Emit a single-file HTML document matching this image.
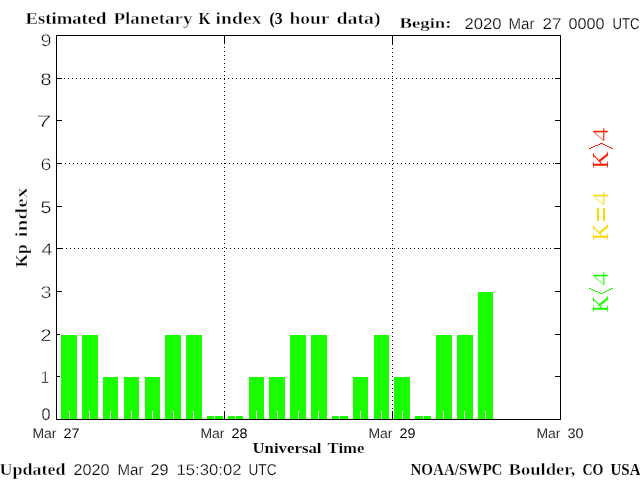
<!DOCTYPE html>
<html><head><meta charset="utf-8"><title>Estimated Planetary K index (3 hour data)</title>
<style>html,body{margin:0;padding:0;background:#fff;overflow:hidden;}svg{display:block;}</style></head>
<body>
<svg width="640" height="480" viewBox="0 0 640 480">
<rect x="0" y="0" width="640" height="480" fill="#fff"/>
<g shape-rendering="crispEdges">
<rect x="56" y="419" width="6" height="1" fill="#000"/><rect x="555" y="419" width="6" height="1" fill="#000"/><rect x="56" y="376" width="6" height="1" fill="#000"/><rect x="555" y="376" width="6" height="1" fill="#000"/><rect x="56" y="334" width="6" height="1" fill="#000"/><rect x="555" y="334" width="6" height="1" fill="#000"/><rect x="56" y="291" width="6" height="1" fill="#000"/><rect x="555" y="291" width="6" height="1" fill="#000"/><rect x="56" y="248" width="6" height="1" fill="#000"/><rect x="555" y="248" width="6" height="1" fill="#000"/><rect x="56" y="206" width="6" height="1" fill="#000"/><rect x="555" y="206" width="6" height="1" fill="#000"/><rect x="56" y="163" width="6" height="1" fill="#000"/><rect x="555" y="163" width="6" height="1" fill="#000"/><rect x="56" y="120" width="6" height="1" fill="#000"/><rect x="555" y="120" width="6" height="1" fill="#000"/><rect x="56" y="78" width="6" height="1" fill="#000"/><rect x="555" y="78" width="6" height="1" fill="#000"/><rect x="56" y="35" width="6" height="1" fill="#000"/><rect x="555" y="35" width="6" height="1" fill="#000"/><rect x="62" y="248" width="1" height="1" fill="#000"/><rect x="66" y="248" width="1" height="1" fill="#000"/><rect x="70" y="248" width="1" height="1" fill="#000"/><rect x="74" y="248" width="1" height="1" fill="#000"/><rect x="78" y="248" width="1" height="1" fill="#000"/><rect x="82" y="248" width="1" height="1" fill="#000"/><rect x="86" y="248" width="1" height="1" fill="#000"/><rect x="90" y="248" width="1" height="1" fill="#000"/><rect x="94" y="248" width="1" height="1" fill="#000"/><rect x="98" y="248" width="1" height="1" fill="#000"/><rect x="102" y="248" width="1" height="1" fill="#000"/><rect x="106" y="248" width="1" height="1" fill="#000"/><rect x="110" y="248" width="1" height="1" fill="#000"/><rect x="114" y="248" width="1" height="1" fill="#000"/><rect x="118" y="248" width="1" height="1" fill="#000"/><rect x="122" y="248" width="1" height="1" fill="#000"/><rect x="126" y="248" width="1" height="1" fill="#000"/><rect x="130" y="248" width="1" height="1" fill="#000"/><rect x="134" y="248" width="1" height="1" fill="#000"/><rect x="138" y="248" width="1" height="1" fill="#000"/><rect x="142" y="248" width="1" height="1" fill="#000"/><rect x="146" y="248" width="1" height="1" fill="#000"/><rect x="150" y="248" width="1" height="1" fill="#000"/><rect x="154" y="248" width="1" height="1" fill="#000"/><rect x="158" y="248" width="1" height="1" fill="#000"/><rect x="162" y="248" width="1" height="1" fill="#000"/><rect x="166" y="248" width="1" height="1" fill="#000"/><rect x="170" y="248" width="1" height="1" fill="#000"/><rect x="174" y="248" width="1" height="1" fill="#000"/><rect x="178" y="248" width="1" height="1" fill="#000"/><rect x="182" y="248" width="1" height="1" fill="#000"/><rect x="186" y="248" width="1" height="1" fill="#000"/><rect x="190" y="248" width="1" height="1" fill="#000"/><rect x="194" y="248" width="1" height="1" fill="#000"/><rect x="198" y="248" width="1" height="1" fill="#000"/><rect x="202" y="248" width="1" height="1" fill="#000"/><rect x="206" y="248" width="1" height="1" fill="#000"/><rect x="210" y="248" width="1" height="1" fill="#000"/><rect x="214" y="248" width="1" height="1" fill="#000"/><rect x="218" y="248" width="1" height="1" fill="#000"/><rect x="222" y="248" width="1" height="1" fill="#000"/><rect x="226" y="248" width="1" height="1" fill="#000"/><rect x="230" y="248" width="1" height="1" fill="#000"/><rect x="234" y="248" width="1" height="1" fill="#000"/><rect x="238" y="248" width="1" height="1" fill="#000"/><rect x="242" y="248" width="1" height="1" fill="#000"/><rect x="246" y="248" width="1" height="1" fill="#000"/><rect x="250" y="248" width="1" height="1" fill="#000"/><rect x="254" y="248" width="1" height="1" fill="#000"/><rect x="258" y="248" width="1" height="1" fill="#000"/><rect x="262" y="248" width="1" height="1" fill="#000"/><rect x="266" y="248" width="1" height="1" fill="#000"/><rect x="270" y="248" width="1" height="1" fill="#000"/><rect x="274" y="248" width="1" height="1" fill="#000"/><rect x="278" y="248" width="1" height="1" fill="#000"/><rect x="282" y="248" width="1" height="1" fill="#000"/><rect x="286" y="248" width="1" height="1" fill="#000"/><rect x="290" y="248" width="1" height="1" fill="#000"/><rect x="294" y="248" width="1" height="1" fill="#000"/><rect x="298" y="248" width="1" height="1" fill="#000"/><rect x="302" y="248" width="1" height="1" fill="#000"/><rect x="306" y="248" width="1" height="1" fill="#000"/><rect x="310" y="248" width="1" height="1" fill="#000"/><rect x="314" y="248" width="1" height="1" fill="#000"/><rect x="318" y="248" width="1" height="1" fill="#000"/><rect x="322" y="248" width="1" height="1" fill="#000"/><rect x="326" y="248" width="1" height="1" fill="#000"/><rect x="330" y="248" width="1" height="1" fill="#000"/><rect x="334" y="248" width="1" height="1" fill="#000"/><rect x="338" y="248" width="1" height="1" fill="#000"/><rect x="342" y="248" width="1" height="1" fill="#000"/><rect x="346" y="248" width="1" height="1" fill="#000"/><rect x="350" y="248" width="1" height="1" fill="#000"/><rect x="354" y="248" width="1" height="1" fill="#000"/><rect x="358" y="248" width="1" height="1" fill="#000"/><rect x="362" y="248" width="1" height="1" fill="#000"/><rect x="366" y="248" width="1" height="1" fill="#000"/><rect x="370" y="248" width="1" height="1" fill="#000"/><rect x="374" y="248" width="1" height="1" fill="#000"/><rect x="378" y="248" width="1" height="1" fill="#000"/><rect x="382" y="248" width="1" height="1" fill="#000"/><rect x="386" y="248" width="1" height="1" fill="#000"/><rect x="390" y="248" width="1" height="1" fill="#000"/><rect x="394" y="248" width="1" height="1" fill="#000"/><rect x="398" y="248" width="1" height="1" fill="#000"/><rect x="402" y="248" width="1" height="1" fill="#000"/><rect x="406" y="248" width="1" height="1" fill="#000"/><rect x="410" y="248" width="1" height="1" fill="#000"/><rect x="414" y="248" width="1" height="1" fill="#000"/><rect x="418" y="248" width="1" height="1" fill="#000"/><rect x="422" y="248" width="1" height="1" fill="#000"/><rect x="426" y="248" width="1" height="1" fill="#000"/><rect x="430" y="248" width="1" height="1" fill="#000"/><rect x="434" y="248" width="1" height="1" fill="#000"/><rect x="438" y="248" width="1" height="1" fill="#000"/><rect x="442" y="248" width="1" height="1" fill="#000"/><rect x="446" y="248" width="1" height="1" fill="#000"/><rect x="450" y="248" width="1" height="1" fill="#000"/><rect x="454" y="248" width="1" height="1" fill="#000"/><rect x="458" y="248" width="1" height="1" fill="#000"/><rect x="462" y="248" width="1" height="1" fill="#000"/><rect x="466" y="248" width="1" height="1" fill="#000"/><rect x="470" y="248" width="1" height="1" fill="#000"/><rect x="474" y="248" width="1" height="1" fill="#000"/><rect x="478" y="248" width="1" height="1" fill="#000"/><rect x="482" y="248" width="1" height="1" fill="#000"/><rect x="486" y="248" width="1" height="1" fill="#000"/><rect x="490" y="248" width="1" height="1" fill="#000"/><rect x="494" y="248" width="1" height="1" fill="#000"/><rect x="498" y="248" width="1" height="1" fill="#000"/><rect x="502" y="248" width="1" height="1" fill="#000"/><rect x="506" y="248" width="1" height="1" fill="#000"/><rect x="510" y="248" width="1" height="1" fill="#000"/><rect x="514" y="248" width="1" height="1" fill="#000"/><rect x="518" y="248" width="1" height="1" fill="#000"/><rect x="522" y="248" width="1" height="1" fill="#000"/><rect x="526" y="248" width="1" height="1" fill="#000"/><rect x="530" y="248" width="1" height="1" fill="#000"/><rect x="534" y="248" width="1" height="1" fill="#000"/><rect x="538" y="248" width="1" height="1" fill="#000"/><rect x="542" y="248" width="1" height="1" fill="#000"/><rect x="546" y="248" width="1" height="1" fill="#000"/><rect x="550" y="248" width="1" height="1" fill="#000"/><rect x="554" y="248" width="1" height="1" fill="#000"/><rect x="65" y="163" width="1" height="1" fill="#000"/><rect x="69" y="163" width="1" height="1" fill="#000"/><rect x="73" y="163" width="1" height="1" fill="#000"/><rect x="77" y="163" width="1" height="1" fill="#000"/><rect x="81" y="163" width="1" height="1" fill="#000"/><rect x="85" y="163" width="1" height="1" fill="#000"/><rect x="89" y="163" width="1" height="1" fill="#000"/><rect x="93" y="163" width="1" height="1" fill="#000"/><rect x="97" y="163" width="1" height="1" fill="#000"/><rect x="101" y="163" width="1" height="1" fill="#000"/><rect x="105" y="163" width="1" height="1" fill="#000"/><rect x="109" y="163" width="1" height="1" fill="#000"/><rect x="113" y="163" width="1" height="1" fill="#000"/><rect x="117" y="163" width="1" height="1" fill="#000"/><rect x="121" y="163" width="1" height="1" fill="#000"/><rect x="125" y="163" width="1" height="1" fill="#000"/><rect x="129" y="163" width="1" height="1" fill="#000"/><rect x="133" y="163" width="1" height="1" fill="#000"/><rect x="137" y="163" width="1" height="1" fill="#000"/><rect x="141" y="163" width="1" height="1" fill="#000"/><rect x="145" y="163" width="1" height="1" fill="#000"/><rect x="149" y="163" width="1" height="1" fill="#000"/><rect x="153" y="163" width="1" height="1" fill="#000"/><rect x="157" y="163" width="1" height="1" fill="#000"/><rect x="161" y="163" width="1" height="1" fill="#000"/><rect x="165" y="163" width="1" height="1" fill="#000"/><rect x="169" y="163" width="1" height="1" fill="#000"/><rect x="173" y="163" width="1" height="1" fill="#000"/><rect x="177" y="163" width="1" height="1" fill="#000"/><rect x="181" y="163" width="1" height="1" fill="#000"/><rect x="185" y="163" width="1" height="1" fill="#000"/><rect x="189" y="163" width="1" height="1" fill="#000"/><rect x="193" y="163" width="1" height="1" fill="#000"/><rect x="197" y="163" width="1" height="1" fill="#000"/><rect x="201" y="163" width="1" height="1" fill="#000"/><rect x="205" y="163" width="1" height="1" fill="#000"/><rect x="209" y="163" width="1" height="1" fill="#000"/><rect x="213" y="163" width="1" height="1" fill="#000"/><rect x="217" y="163" width="1" height="1" fill="#000"/><rect x="221" y="163" width="1" height="1" fill="#000"/><rect x="225" y="163" width="1" height="1" fill="#000"/><rect x="229" y="163" width="1" height="1" fill="#000"/><rect x="233" y="163" width="1" height="1" fill="#000"/><rect x="237" y="163" width="1" height="1" fill="#000"/><rect x="241" y="163" width="1" height="1" fill="#000"/><rect x="245" y="163" width="1" height="1" fill="#000"/><rect x="249" y="163" width="1" height="1" fill="#000"/><rect x="253" y="163" width="1" height="1" fill="#000"/><rect x="257" y="163" width="1" height="1" fill="#000"/><rect x="261" y="163" width="1" height="1" fill="#000"/><rect x="265" y="163" width="1" height="1" fill="#000"/><rect x="269" y="163" width="1" height="1" fill="#000"/><rect x="273" y="163" width="1" height="1" fill="#000"/><rect x="277" y="163" width="1" height="1" fill="#000"/><rect x="281" y="163" width="1" height="1" fill="#000"/><rect x="285" y="163" width="1" height="1" fill="#000"/><rect x="289" y="163" width="1" height="1" fill="#000"/><rect x="293" y="163" width="1" height="1" fill="#000"/><rect x="297" y="163" width="1" height="1" fill="#000"/><rect x="301" y="163" width="1" height="1" fill="#000"/><rect x="305" y="163" width="1" height="1" fill="#000"/><rect x="309" y="163" width="1" height="1" fill="#000"/><rect x="313" y="163" width="1" height="1" fill="#000"/><rect x="317" y="163" width="1" height="1" fill="#000"/><rect x="321" y="163" width="1" height="1" fill="#000"/><rect x="325" y="163" width="1" height="1" fill="#000"/><rect x="329" y="163" width="1" height="1" fill="#000"/><rect x="333" y="163" width="1" height="1" fill="#000"/><rect x="337" y="163" width="1" height="1" fill="#000"/><rect x="341" y="163" width="1" height="1" fill="#000"/><rect x="345" y="163" width="1" height="1" fill="#000"/><rect x="349" y="163" width="1" height="1" fill="#000"/><rect x="353" y="163" width="1" height="1" fill="#000"/><rect x="357" y="163" width="1" height="1" fill="#000"/><rect x="361" y="163" width="1" height="1" fill="#000"/><rect x="365" y="163" width="1" height="1" fill="#000"/><rect x="369" y="163" width="1" height="1" fill="#000"/><rect x="373" y="163" width="1" height="1" fill="#000"/><rect x="377" y="163" width="1" height="1" fill="#000"/><rect x="381" y="163" width="1" height="1" fill="#000"/><rect x="385" y="163" width="1" height="1" fill="#000"/><rect x="389" y="163" width="1" height="1" fill="#000"/><rect x="393" y="163" width="1" height="1" fill="#000"/><rect x="397" y="163" width="1" height="1" fill="#000"/><rect x="401" y="163" width="1" height="1" fill="#000"/><rect x="405" y="163" width="1" height="1" fill="#000"/><rect x="409" y="163" width="1" height="1" fill="#000"/><rect x="413" y="163" width="1" height="1" fill="#000"/><rect x="417" y="163" width="1" height="1" fill="#000"/><rect x="421" y="163" width="1" height="1" fill="#000"/><rect x="425" y="163" width="1" height="1" fill="#000"/><rect x="429" y="163" width="1" height="1" fill="#000"/><rect x="433" y="163" width="1" height="1" fill="#000"/><rect x="437" y="163" width="1" height="1" fill="#000"/><rect x="441" y="163" width="1" height="1" fill="#000"/><rect x="445" y="163" width="1" height="1" fill="#000"/><rect x="449" y="163" width="1" height="1" fill="#000"/><rect x="453" y="163" width="1" height="1" fill="#000"/><rect x="457" y="163" width="1" height="1" fill="#000"/><rect x="461" y="163" width="1" height="1" fill="#000"/><rect x="465" y="163" width="1" height="1" fill="#000"/><rect x="469" y="163" width="1" height="1" fill="#000"/><rect x="473" y="163" width="1" height="1" fill="#000"/><rect x="477" y="163" width="1" height="1" fill="#000"/><rect x="481" y="163" width="1" height="1" fill="#000"/><rect x="485" y="163" width="1" height="1" fill="#000"/><rect x="489" y="163" width="1" height="1" fill="#000"/><rect x="493" y="163" width="1" height="1" fill="#000"/><rect x="497" y="163" width="1" height="1" fill="#000"/><rect x="501" y="163" width="1" height="1" fill="#000"/><rect x="505" y="163" width="1" height="1" fill="#000"/><rect x="509" y="163" width="1" height="1" fill="#000"/><rect x="513" y="163" width="1" height="1" fill="#000"/><rect x="517" y="163" width="1" height="1" fill="#000"/><rect x="521" y="163" width="1" height="1" fill="#000"/><rect x="525" y="163" width="1" height="1" fill="#000"/><rect x="529" y="163" width="1" height="1" fill="#000"/><rect x="533" y="163" width="1" height="1" fill="#000"/><rect x="537" y="163" width="1" height="1" fill="#000"/><rect x="541" y="163" width="1" height="1" fill="#000"/><rect x="545" y="163" width="1" height="1" fill="#000"/><rect x="549" y="163" width="1" height="1" fill="#000"/><rect x="553" y="163" width="1" height="1" fill="#000"/><rect x="64" y="78" width="1" height="1" fill="#000"/><rect x="68" y="78" width="1" height="1" fill="#000"/><rect x="72" y="78" width="1" height="1" fill="#000"/><rect x="76" y="78" width="1" height="1" fill="#000"/><rect x="80" y="78" width="1" height="1" fill="#000"/><rect x="84" y="78" width="1" height="1" fill="#000"/><rect x="88" y="78" width="1" height="1" fill="#000"/><rect x="92" y="78" width="1" height="1" fill="#000"/><rect x="96" y="78" width="1" height="1" fill="#000"/><rect x="100" y="78" width="1" height="1" fill="#000"/><rect x="104" y="78" width="1" height="1" fill="#000"/><rect x="108" y="78" width="1" height="1" fill="#000"/><rect x="112" y="78" width="1" height="1" fill="#000"/><rect x="116" y="78" width="1" height="1" fill="#000"/><rect x="120" y="78" width="1" height="1" fill="#000"/><rect x="124" y="78" width="1" height="1" fill="#000"/><rect x="128" y="78" width="1" height="1" fill="#000"/><rect x="132" y="78" width="1" height="1" fill="#000"/><rect x="136" y="78" width="1" height="1" fill="#000"/><rect x="140" y="78" width="1" height="1" fill="#000"/><rect x="144" y="78" width="1" height="1" fill="#000"/><rect x="148" y="78" width="1" height="1" fill="#000"/><rect x="152" y="78" width="1" height="1" fill="#000"/><rect x="156" y="78" width="1" height="1" fill="#000"/><rect x="160" y="78" width="1" height="1" fill="#000"/><rect x="164" y="78" width="1" height="1" fill="#000"/><rect x="168" y="78" width="1" height="1" fill="#000"/><rect x="172" y="78" width="1" height="1" fill="#000"/><rect x="176" y="78" width="1" height="1" fill="#000"/><rect x="180" y="78" width="1" height="1" fill="#000"/><rect x="184" y="78" width="1" height="1" fill="#000"/><rect x="188" y="78" width="1" height="1" fill="#000"/><rect x="192" y="78" width="1" height="1" fill="#000"/><rect x="196" y="78" width="1" height="1" fill="#000"/><rect x="200" y="78" width="1" height="1" fill="#000"/><rect x="204" y="78" width="1" height="1" fill="#000"/><rect x="208" y="78" width="1" height="1" fill="#000"/><rect x="212" y="78" width="1" height="1" fill="#000"/><rect x="216" y="78" width="1" height="1" fill="#000"/><rect x="220" y="78" width="1" height="1" fill="#000"/><rect x="224" y="78" width="1" height="1" fill="#000"/><rect x="228" y="78" width="1" height="1" fill="#000"/><rect x="232" y="78" width="1" height="1" fill="#000"/><rect x="236" y="78" width="1" height="1" fill="#000"/><rect x="240" y="78" width="1" height="1" fill="#000"/><rect x="244" y="78" width="1" height="1" fill="#000"/><rect x="248" y="78" width="1" height="1" fill="#000"/><rect x="252" y="78" width="1" height="1" fill="#000"/><rect x="256" y="78" width="1" height="1" fill="#000"/><rect x="260" y="78" width="1" height="1" fill="#000"/><rect x="264" y="78" width="1" height="1" fill="#000"/><rect x="268" y="78" width="1" height="1" fill="#000"/><rect x="272" y="78" width="1" height="1" fill="#000"/><rect x="276" y="78" width="1" height="1" fill="#000"/><rect x="280" y="78" width="1" height="1" fill="#000"/><rect x="284" y="78" width="1" height="1" fill="#000"/><rect x="288" y="78" width="1" height="1" fill="#000"/><rect x="292" y="78" width="1" height="1" fill="#000"/><rect x="296" y="78" width="1" height="1" fill="#000"/><rect x="300" y="78" width="1" height="1" fill="#000"/><rect x="304" y="78" width="1" height="1" fill="#000"/><rect x="308" y="78" width="1" height="1" fill="#000"/><rect x="312" y="78" width="1" height="1" fill="#000"/><rect x="316" y="78" width="1" height="1" fill="#000"/><rect x="320" y="78" width="1" height="1" fill="#000"/><rect x="324" y="78" width="1" height="1" fill="#000"/><rect x="328" y="78" width="1" height="1" fill="#000"/><rect x="332" y="78" width="1" height="1" fill="#000"/><rect x="336" y="78" width="1" height="1" fill="#000"/><rect x="340" y="78" width="1" height="1" fill="#000"/><rect x="344" y="78" width="1" height="1" fill="#000"/><rect x="348" y="78" width="1" height="1" fill="#000"/><rect x="352" y="78" width="1" height="1" fill="#000"/><rect x="356" y="78" width="1" height="1" fill="#000"/><rect x="360" y="78" width="1" height="1" fill="#000"/><rect x="364" y="78" width="1" height="1" fill="#000"/><rect x="368" y="78" width="1" height="1" fill="#000"/><rect x="372" y="78" width="1" height="1" fill="#000"/><rect x="376" y="78" width="1" height="1" fill="#000"/><rect x="380" y="78" width="1" height="1" fill="#000"/><rect x="384" y="78" width="1" height="1" fill="#000"/><rect x="388" y="78" width="1" height="1" fill="#000"/><rect x="392" y="78" width="1" height="1" fill="#000"/><rect x="396" y="78" width="1" height="1" fill="#000"/><rect x="400" y="78" width="1" height="1" fill="#000"/><rect x="404" y="78" width="1" height="1" fill="#000"/><rect x="408" y="78" width="1" height="1" fill="#000"/><rect x="412" y="78" width="1" height="1" fill="#000"/><rect x="416" y="78" width="1" height="1" fill="#000"/><rect x="420" y="78" width="1" height="1" fill="#000"/><rect x="424" y="78" width="1" height="1" fill="#000"/><rect x="428" y="78" width="1" height="1" fill="#000"/><rect x="432" y="78" width="1" height="1" fill="#000"/><rect x="436" y="78" width="1" height="1" fill="#000"/><rect x="440" y="78" width="1" height="1" fill="#000"/><rect x="444" y="78" width="1" height="1" fill="#000"/><rect x="448" y="78" width="1" height="1" fill="#000"/><rect x="452" y="78" width="1" height="1" fill="#000"/><rect x="456" y="78" width="1" height="1" fill="#000"/><rect x="460" y="78" width="1" height="1" fill="#000"/><rect x="464" y="78" width="1" height="1" fill="#000"/><rect x="468" y="78" width="1" height="1" fill="#000"/><rect x="472" y="78" width="1" height="1" fill="#000"/><rect x="476" y="78" width="1" height="1" fill="#000"/><rect x="480" y="78" width="1" height="1" fill="#000"/><rect x="484" y="78" width="1" height="1" fill="#000"/><rect x="488" y="78" width="1" height="1" fill="#000"/><rect x="492" y="78" width="1" height="1" fill="#000"/><rect x="496" y="78" width="1" height="1" fill="#000"/><rect x="500" y="78" width="1" height="1" fill="#000"/><rect x="504" y="78" width="1" height="1" fill="#000"/><rect x="508" y="78" width="1" height="1" fill="#000"/><rect x="512" y="78" width="1" height="1" fill="#000"/><rect x="516" y="78" width="1" height="1" fill="#000"/><rect x="520" y="78" width="1" height="1" fill="#000"/><rect x="524" y="78" width="1" height="1" fill="#000"/><rect x="528" y="78" width="1" height="1" fill="#000"/><rect x="532" y="78" width="1" height="1" fill="#000"/><rect x="536" y="78" width="1" height="1" fill="#000"/><rect x="540" y="78" width="1" height="1" fill="#000"/><rect x="544" y="78" width="1" height="1" fill="#000"/><rect x="548" y="78" width="1" height="1" fill="#000"/><rect x="552" y="78" width="1" height="1" fill="#000"/><rect x="224" y="47" width="1" height="1" fill="#000"/><rect x="224" y="51" width="1" height="1" fill="#000"/><rect x="224" y="55" width="1" height="1" fill="#000"/><rect x="224" y="59" width="1" height="1" fill="#000"/><rect x="224" y="63" width="1" height="1" fill="#000"/><rect x="224" y="67" width="1" height="1" fill="#000"/><rect x="224" y="71" width="1" height="1" fill="#000"/><rect x="224" y="75" width="1" height="1" fill="#000"/><rect x="224" y="79" width="1" height="1" fill="#000"/><rect x="224" y="83" width="1" height="1" fill="#000"/><rect x="224" y="87" width="1" height="1" fill="#000"/><rect x="224" y="91" width="1" height="1" fill="#000"/><rect x="224" y="95" width="1" height="1" fill="#000"/><rect x="224" y="99" width="1" height="1" fill="#000"/><rect x="224" y="103" width="1" height="1" fill="#000"/><rect x="224" y="107" width="1" height="1" fill="#000"/><rect x="224" y="111" width="1" height="1" fill="#000"/><rect x="224" y="115" width="1" height="1" fill="#000"/><rect x="224" y="119" width="1" height="1" fill="#000"/><rect x="224" y="123" width="1" height="1" fill="#000"/><rect x="224" y="127" width="1" height="1" fill="#000"/><rect x="224" y="131" width="1" height="1" fill="#000"/><rect x="224" y="135" width="1" height="1" fill="#000"/><rect x="224" y="139" width="1" height="1" fill="#000"/><rect x="224" y="143" width="1" height="1" fill="#000"/><rect x="224" y="147" width="1" height="1" fill="#000"/><rect x="224" y="151" width="1" height="1" fill="#000"/><rect x="224" y="155" width="1" height="1" fill="#000"/><rect x="224" y="159" width="1" height="1" fill="#000"/><rect x="224" y="163" width="1" height="1" fill="#000"/><rect x="224" y="167" width="1" height="1" fill="#000"/><rect x="224" y="171" width="1" height="1" fill="#000"/><rect x="224" y="175" width="1" height="1" fill="#000"/><rect x="224" y="179" width="1" height="1" fill="#000"/><rect x="224" y="183" width="1" height="1" fill="#000"/><rect x="224" y="187" width="1" height="1" fill="#000"/><rect x="224" y="191" width="1" height="1" fill="#000"/><rect x="224" y="195" width="1" height="1" fill="#000"/><rect x="224" y="199" width="1" height="1" fill="#000"/><rect x="224" y="203" width="1" height="1" fill="#000"/><rect x="224" y="207" width="1" height="1" fill="#000"/><rect x="224" y="211" width="1" height="1" fill="#000"/><rect x="224" y="215" width="1" height="1" fill="#000"/><rect x="224" y="219" width="1" height="1" fill="#000"/><rect x="224" y="223" width="1" height="1" fill="#000"/><rect x="224" y="227" width="1" height="1" fill="#000"/><rect x="224" y="231" width="1" height="1" fill="#000"/><rect x="224" y="235" width="1" height="1" fill="#000"/><rect x="224" y="239" width="1" height="1" fill="#000"/><rect x="224" y="243" width="1" height="1" fill="#000"/><rect x="224" y="247" width="1" height="1" fill="#000"/><rect x="224" y="251" width="1" height="1" fill="#000"/><rect x="224" y="255" width="1" height="1" fill="#000"/><rect x="224" y="259" width="1" height="1" fill="#000"/><rect x="224" y="263" width="1" height="1" fill="#000"/><rect x="224" y="267" width="1" height="1" fill="#000"/><rect x="224" y="271" width="1" height="1" fill="#000"/><rect x="224" y="275" width="1" height="1" fill="#000"/><rect x="224" y="279" width="1" height="1" fill="#000"/><rect x="224" y="283" width="1" height="1" fill="#000"/><rect x="224" y="287" width="1" height="1" fill="#000"/><rect x="224" y="291" width="1" height="1" fill="#000"/><rect x="224" y="295" width="1" height="1" fill="#000"/><rect x="224" y="299" width="1" height="1" fill="#000"/><rect x="224" y="303" width="1" height="1" fill="#000"/><rect x="224" y="307" width="1" height="1" fill="#000"/><rect x="224" y="311" width="1" height="1" fill="#000"/><rect x="224" y="315" width="1" height="1" fill="#000"/><rect x="224" y="319" width="1" height="1" fill="#000"/><rect x="224" y="323" width="1" height="1" fill="#000"/><rect x="224" y="327" width="1" height="1" fill="#000"/><rect x="224" y="331" width="1" height="1" fill="#000"/><rect x="224" y="335" width="1" height="1" fill="#000"/><rect x="224" y="339" width="1" height="1" fill="#000"/><rect x="224" y="343" width="1" height="1" fill="#000"/><rect x="224" y="347" width="1" height="1" fill="#000"/><rect x="224" y="351" width="1" height="1" fill="#000"/><rect x="224" y="355" width="1" height="1" fill="#000"/><rect x="224" y="359" width="1" height="1" fill="#000"/><rect x="224" y="363" width="1" height="1" fill="#000"/><rect x="224" y="367" width="1" height="1" fill="#000"/><rect x="224" y="371" width="1" height="1" fill="#000"/><rect x="224" y="375" width="1" height="1" fill="#000"/><rect x="224" y="379" width="1" height="1" fill="#000"/><rect x="224" y="383" width="1" height="1" fill="#000"/><rect x="224" y="387" width="1" height="1" fill="#000"/><rect x="224" y="391" width="1" height="1" fill="#000"/><rect x="224" y="395" width="1" height="1" fill="#000"/><rect x="224" y="399" width="1" height="1" fill="#000"/><rect x="224" y="403" width="1" height="1" fill="#000"/><rect x="224" y="407" width="1" height="1" fill="#000"/><rect x="224" y="36" width="1" height="8" fill="#000"/><rect x="224" y="411" width="1" height="8" fill="#000"/><rect x="392" y="44" width="1" height="1" fill="#000"/><rect x="392" y="48" width="1" height="1" fill="#000"/><rect x="392" y="52" width="1" height="1" fill="#000"/><rect x="392" y="56" width="1" height="1" fill="#000"/><rect x="392" y="60" width="1" height="1" fill="#000"/><rect x="392" y="64" width="1" height="1" fill="#000"/><rect x="392" y="68" width="1" height="1" fill="#000"/><rect x="392" y="72" width="1" height="1" fill="#000"/><rect x="392" y="76" width="1" height="1" fill="#000"/><rect x="392" y="80" width="1" height="1" fill="#000"/><rect x="392" y="84" width="1" height="1" fill="#000"/><rect x="392" y="88" width="1" height="1" fill="#000"/><rect x="392" y="92" width="1" height="1" fill="#000"/><rect x="392" y="96" width="1" height="1" fill="#000"/><rect x="392" y="100" width="1" height="1" fill="#000"/><rect x="392" y="104" width="1" height="1" fill="#000"/><rect x="392" y="108" width="1" height="1" fill="#000"/><rect x="392" y="112" width="1" height="1" fill="#000"/><rect x="392" y="116" width="1" height="1" fill="#000"/><rect x="392" y="120" width="1" height="1" fill="#000"/><rect x="392" y="124" width="1" height="1" fill="#000"/><rect x="392" y="128" width="1" height="1" fill="#000"/><rect x="392" y="132" width="1" height="1" fill="#000"/><rect x="392" y="136" width="1" height="1" fill="#000"/><rect x="392" y="140" width="1" height="1" fill="#000"/><rect x="392" y="144" width="1" height="1" fill="#000"/><rect x="392" y="148" width="1" height="1" fill="#000"/><rect x="392" y="152" width="1" height="1" fill="#000"/><rect x="392" y="156" width="1" height="1" fill="#000"/><rect x="392" y="160" width="1" height="1" fill="#000"/><rect x="392" y="164" width="1" height="1" fill="#000"/><rect x="392" y="168" width="1" height="1" fill="#000"/><rect x="392" y="172" width="1" height="1" fill="#000"/><rect x="392" y="176" width="1" height="1" fill="#000"/><rect x="392" y="180" width="1" height="1" fill="#000"/><rect x="392" y="184" width="1" height="1" fill="#000"/><rect x="392" y="188" width="1" height="1" fill="#000"/><rect x="392" y="192" width="1" height="1" fill="#000"/><rect x="392" y="196" width="1" height="1" fill="#000"/><rect x="392" y="200" width="1" height="1" fill="#000"/><rect x="392" y="204" width="1" height="1" fill="#000"/><rect x="392" y="208" width="1" height="1" fill="#000"/><rect x="392" y="212" width="1" height="1" fill="#000"/><rect x="392" y="216" width="1" height="1" fill="#000"/><rect x="392" y="220" width="1" height="1" fill="#000"/><rect x="392" y="224" width="1" height="1" fill="#000"/><rect x="392" y="228" width="1" height="1" fill="#000"/><rect x="392" y="232" width="1" height="1" fill="#000"/><rect x="392" y="236" width="1" height="1" fill="#000"/><rect x="392" y="240" width="1" height="1" fill="#000"/><rect x="392" y="244" width="1" height="1" fill="#000"/><rect x="392" y="248" width="1" height="1" fill="#000"/><rect x="392" y="252" width="1" height="1" fill="#000"/><rect x="392" y="256" width="1" height="1" fill="#000"/><rect x="392" y="260" width="1" height="1" fill="#000"/><rect x="392" y="264" width="1" height="1" fill="#000"/><rect x="392" y="268" width="1" height="1" fill="#000"/><rect x="392" y="272" width="1" height="1" fill="#000"/><rect x="392" y="276" width="1" height="1" fill="#000"/><rect x="392" y="280" width="1" height="1" fill="#000"/><rect x="392" y="284" width="1" height="1" fill="#000"/><rect x="392" y="288" width="1" height="1" fill="#000"/><rect x="392" y="292" width="1" height="1" fill="#000"/><rect x="392" y="296" width="1" height="1" fill="#000"/><rect x="392" y="300" width="1" height="1" fill="#000"/><rect x="392" y="304" width="1" height="1" fill="#000"/><rect x="392" y="308" width="1" height="1" fill="#000"/><rect x="392" y="312" width="1" height="1" fill="#000"/><rect x="392" y="316" width="1" height="1" fill="#000"/><rect x="392" y="320" width="1" height="1" fill="#000"/><rect x="392" y="324" width="1" height="1" fill="#000"/><rect x="392" y="328" width="1" height="1" fill="#000"/><rect x="392" y="332" width="1" height="1" fill="#000"/><rect x="392" y="336" width="1" height="1" fill="#000"/><rect x="392" y="340" width="1" height="1" fill="#000"/><rect x="392" y="344" width="1" height="1" fill="#000"/><rect x="392" y="348" width="1" height="1" fill="#000"/><rect x="392" y="352" width="1" height="1" fill="#000"/><rect x="392" y="356" width="1" height="1" fill="#000"/><rect x="392" y="360" width="1" height="1" fill="#000"/><rect x="392" y="364" width="1" height="1" fill="#000"/><rect x="392" y="368" width="1" height="1" fill="#000"/><rect x="392" y="372" width="1" height="1" fill="#000"/><rect x="392" y="376" width="1" height="1" fill="#000"/><rect x="392" y="380" width="1" height="1" fill="#000"/><rect x="392" y="384" width="1" height="1" fill="#000"/><rect x="392" y="388" width="1" height="1" fill="#000"/><rect x="392" y="392" width="1" height="1" fill="#000"/><rect x="392" y="396" width="1" height="1" fill="#000"/><rect x="392" y="400" width="1" height="1" fill="#000"/><rect x="392" y="404" width="1" height="1" fill="#000"/><rect x="392" y="408" width="1" height="1" fill="#000"/><rect x="392" y="36" width="1" height="8" fill="#000"/><rect x="392" y="411" width="1" height="8" fill="#000"/><rect x="60" y="334" width="18" height="85" fill="#fff"/><rect x="61" y="335" width="16" height="84" fill="#1aff00"/><rect x="69" y="411" width="1" height="8" fill="#fff"/><rect x="81" y="334" width="18" height="85" fill="#fff"/><rect x="82" y="335" width="16" height="84" fill="#1aff00"/><rect x="89" y="411" width="1" height="8" fill="#fff"/><rect x="102" y="376" width="17" height="43" fill="#fff"/><rect x="103" y="377" width="15" height="42" fill="#1aff00"/><rect x="110" y="411" width="1" height="8" fill="#fff"/><rect x="123" y="376" width="17" height="43" fill="#fff"/><rect x="124" y="377" width="15" height="42" fill="#1aff00"/><rect x="131" y="411" width="1" height="8" fill="#fff"/><rect x="144" y="376" width="17" height="43" fill="#fff"/><rect x="145" y="377" width="15" height="42" fill="#1aff00"/><rect x="152" y="411" width="1" height="8" fill="#fff"/><rect x="164" y="334" width="18" height="85" fill="#fff"/><rect x="165" y="335" width="16" height="84" fill="#1aff00"/><rect x="173" y="411" width="1" height="8" fill="#fff"/><rect x="185" y="334" width="18" height="85" fill="#fff"/><rect x="186" y="335" width="16" height="84" fill="#1aff00"/><rect x="193" y="411" width="1" height="8" fill="#fff"/><rect x="206" y="415" width="18" height="4" fill="#fff"/><rect x="207" y="416" width="16" height="3" fill="#1aff00"/><rect x="214" y="416" width="1" height="3" fill="#fff"/><rect x="227" y="415" width="17" height="4" fill="#fff"/><rect x="228" y="416" width="15" height="3" fill="#1aff00"/><rect x="235" y="416" width="1" height="3" fill="#fff"/><rect x="248" y="376" width="17" height="43" fill="#fff"/><rect x="249" y="377" width="15" height="42" fill="#1aff00"/><rect x="256" y="411" width="1" height="8" fill="#fff"/><rect x="268" y="376" width="18" height="43" fill="#fff"/><rect x="269" y="377" width="16" height="42" fill="#1aff00"/><rect x="277" y="411" width="1" height="8" fill="#fff"/><rect x="289" y="334" width="18" height="85" fill="#fff"/><rect x="290" y="335" width="16" height="84" fill="#1aff00"/><rect x="298" y="411" width="1" height="8" fill="#fff"/><rect x="310" y="334" width="18" height="85" fill="#fff"/><rect x="311" y="335" width="16" height="84" fill="#1aff00"/><rect x="318" y="411" width="1" height="8" fill="#fff"/><rect x="331" y="415" width="18" height="4" fill="#fff"/><rect x="332" y="416" width="16" height="3" fill="#1aff00"/><rect x="339" y="416" width="1" height="3" fill="#fff"/><rect x="352" y="376" width="17" height="43" fill="#fff"/><rect x="353" y="377" width="15" height="42" fill="#1aff00"/><rect x="360" y="411" width="1" height="8" fill="#fff"/><rect x="373" y="334" width="17" height="85" fill="#fff"/><rect x="374" y="335" width="15" height="84" fill="#1aff00"/><rect x="381" y="411" width="1" height="8" fill="#fff"/><rect x="393" y="376" width="18" height="43" fill="#fff"/><rect x="394" y="377" width="16" height="42" fill="#1aff00"/><rect x="402" y="411" width="1" height="8" fill="#fff"/><rect x="414" y="415" width="18" height="4" fill="#fff"/><rect x="415" y="416" width="16" height="3" fill="#1aff00"/><rect x="423" y="416" width="1" height="3" fill="#fff"/><rect x="435" y="334" width="18" height="85" fill="#fff"/><rect x="436" y="335" width="16" height="84" fill="#1aff00"/><rect x="443" y="411" width="1" height="8" fill="#fff"/><rect x="456" y="334" width="18" height="85" fill="#fff"/><rect x="457" y="335" width="16" height="84" fill="#1aff00"/><rect x="464" y="411" width="1" height="8" fill="#fff"/><rect x="477" y="291" width="17" height="128" fill="#fff"/><rect x="478" y="292" width="15" height="127" fill="#1aff00"/><rect x="485" y="411" width="1" height="8" fill="#fff"/><rect x="56" y="35" width="505" height="1" fill="#000"/><rect x="56" y="419" width="505" height="1" fill="#000"/><rect x="56" y="35" width="1" height="385" fill="#000"/><rect x="560" y="35" width="1" height="385" fill="#000"/>
</g>
<g aria-label="K&gt;4"><g shape-rendering="crispEdges" fill="#ff1a00"><rect x="589" y="148" width="2" height="1"/><rect x="591" y="147" width="2" height="1"/><rect x="593" y="146" width="2" height="1"/><rect x="595" y="145" width="3" height="1"/><rect x="598" y="144" width="2" height="1"/><rect x="600" y="143" width="3" height="1"/><rect x="603" y="144" width="2" height="1"/><rect x="605" y="145" width="2" height="1"/><rect x="607" y="146" width="2" height="1"/><rect x="609" y="147" width="2" height="1"/><rect x="611" y="148" width="2" height="1"/></g>
</g>
<g aria-label="K&lt;4"><g shape-rendering="crispEdges" fill="#1aff00"><rect x="589" y="288" width="2" height="1"/><rect x="591" y="289" width="2" height="1"/><rect x="593" y="290" width="2" height="1"/><rect x="595" y="291" width="3" height="1"/><rect x="598" y="292" width="2" height="1"/><rect x="600" y="293" width="3" height="1"/><rect x="603" y="292" width="2" height="1"/><rect x="605" y="291" width="2" height="1"/><rect x="607" y="290" width="2" height="1"/><rect x="609" y="289" width="2" height="1"/><rect x="611" y="288" width="2" height="1"/></g>
</g>
<g aria-label="K=4" shape-rendering="crispEdges"><rect x="597" y="208" width="2" height="13" fill="#ffd700"/><rect x="603" y="208" width="2" height="13" fill="#ffd700"/></g>
<g style="transform:translateZ(0)">
<text x="25.50" y="24" font-family='"Liberation Serif", serif' font-weight="bold" font-size="16.6" fill="#000" textLength="81.00" lengthAdjust="spacingAndGlyphs" stroke="#fff" stroke-width="0.284">Estimated</text>
<text x="113.50" y="24" font-family='"Liberation Serif", serif' font-weight="bold" font-size="16.6" fill="#000" textLength="79.00" lengthAdjust="spacingAndGlyphs" stroke="#fff" stroke-width="0.387">Planetary</text>
<text x="198.50" y="24" font-family='"Liberation Serif", serif' font-weight="bold" font-size="16.6" fill="#000" textLength="12.00" lengthAdjust="spacingAndGlyphs" stroke="#fff" stroke-width="0.248">K</text>
<text x="215.50" y="24" font-family='"Liberation Serif", serif' font-weight="bold" font-size="16.6" fill="#000" textLength="46.00" lengthAdjust="spacingAndGlyphs" stroke="#fff" stroke-width="0.39">index</text>
<text x="269.50" y="24" font-family='"Liberation Serif", serif' font-weight="bold" font-size="16.6" fill="#000" textLength="13.00" lengthAdjust="spacingAndGlyphs" stroke="#fff" stroke-width="0.012">(3</text>
<text x="289.50" y="24" font-family='"Liberation Serif", serif' font-weight="bold" font-size="16.6" fill="#000" textLength="40.00" lengthAdjust="spacingAndGlyphs" stroke="#fff" stroke-width="0.42">hour</text>
<text x="336.50" y="24" font-family='"Liberation Serif", serif' font-weight="bold" font-size="16.6" fill="#000" textLength="44.00" lengthAdjust="spacingAndGlyphs" stroke="#fff" stroke-width="0.378">data)</text>
<text x="399.50" y="28" font-family='"Liberation Serif", serif' font-weight="bold" font-size="15.2" fill="#000" textLength="52.00" lengthAdjust="spacingAndGlyphs" stroke="#fff" stroke-width="0.282">Begin:</text>
<text x="464.50" y="29" font-family='"Liberation Sans", sans-serif' font-weight="normal" font-size="15.6" fill="#000" textLength="37.00" lengthAdjust="spacingAndGlyphs" text-rendering="geometricPrecision" stroke="#fff" stroke-width="0.236">2020</text>
<text x="508.50" y="29" font-family='"Liberation Sans", sans-serif' font-weight="normal" font-size="15.6" fill="#000" textLength="26.00" lengthAdjust="spacingAndGlyphs" text-rendering="geometricPrecision" stroke="#fff" stroke-width="0.232">Mar</text>
<text x="542.50" y="29" font-family='"Liberation Sans", sans-serif' font-weight="normal" font-size="15.6" fill="#000" textLength="19.00" lengthAdjust="spacingAndGlyphs" text-rendering="geometricPrecision" stroke="#fff" stroke-width="0.234">27</text>
<text x="568.50" y="29" font-family='"Liberation Sans", sans-serif' font-weight="normal" font-size="15.6" fill="#000" textLength="36.00" lengthAdjust="spacingAndGlyphs" text-rendering="geometricPrecision" stroke="#fff" stroke-width="0.188">0000</text>
<text x="612.50" y="29" font-family='"Liberation Sans", sans-serif' font-weight="normal" font-size="15.6" fill="#000" textLength="27.00" lengthAdjust="spacingAndGlyphs" text-rendering="geometricPrecision" stroke="#fff" stroke-width="0.171">UTC</text>
<text x="41.50" y="420" font-family='"Liberation Sans", sans-serif' font-weight="normal" font-size="16.8" fill="#000" textLength="9.00" lengthAdjust="spacingAndGlyphs" text-rendering="geometricPrecision" stroke="#fff" stroke-width="0.238">0</text>
<text x="40.50" y="383" font-family='"Liberation Sans", sans-serif' font-weight="normal" font-size="16.8" fill="#000" textLength="9.00" lengthAdjust="spacingAndGlyphs" text-rendering="geometricPrecision" stroke="#fff" stroke-width="0.5">1</text>
<text x="40.50" y="341" font-family='"Liberation Sans", sans-serif' font-weight="normal" font-size="16.8" fill="#000" textLength="11.00" lengthAdjust="spacingAndGlyphs" text-rendering="geometricPrecision" stroke="#fff" stroke-width="0.362">2</text>
<text x="40.50" y="298" font-family='"Liberation Sans", sans-serif' font-weight="normal" font-size="16.8" fill="#000" textLength="11.00" lengthAdjust="spacingAndGlyphs" text-rendering="geometricPrecision" stroke="#fff" stroke-width="0.48">3</text>
<text x="41.50" y="255" font-family='"Liberation Sans", sans-serif' font-weight="normal" font-size="16.8" fill="#000" textLength="11.00" lengthAdjust="spacingAndGlyphs" text-rendering="geometricPrecision" stroke="#fff" stroke-width="0.38">4</text>
<text x="40.50" y="213" font-family='"Liberation Sans", sans-serif' font-weight="normal" font-size="16.8" fill="#000" textLength="11.00" lengthAdjust="spacingAndGlyphs" text-rendering="geometricPrecision" stroke="#fff" stroke-width="0.337">5</text>
<text x="40.50" y="170" font-family='"Liberation Sans", sans-serif' font-weight="normal" font-size="16.8" fill="#000" textLength="11.00" lengthAdjust="spacingAndGlyphs" text-rendering="geometricPrecision" stroke="#fff" stroke-width="0.499">6</text>
<text x="36.50" y="127" font-family='"Liberation Sans", sans-serif' font-weight="normal" font-size="16.8" fill="#000" textLength="15.00" lengthAdjust="spacingAndGlyphs" text-rendering="geometricPrecision" stroke="#fff" stroke-width="0.464">7</text>
<text x="40.50" y="85" font-family='"Liberation Sans", sans-serif' font-weight="normal" font-size="16.8" fill="#000" textLength="11.00" lengthAdjust="spacingAndGlyphs" text-rendering="geometricPrecision" stroke="#fff" stroke-width="0.316">8</text>
<text x="40.50" y="46" font-family='"Liberation Sans", sans-serif' font-weight="normal" font-size="16.8" fill="#000" textLength="11.00" lengthAdjust="spacingAndGlyphs" text-rendering="geometricPrecision" stroke="#fff" stroke-width="0.5">9</text>
<text x="32.50" y="438" font-family='"Liberation Sans", sans-serif' font-weight="normal" font-size="13.8" fill="#000" textLength="24.00" lengthAdjust="spacingAndGlyphs" text-rendering="geometricPrecision" stroke="#fff" stroke-width="0.136">Mar</text>
<text x="63.50" y="438" font-family='"Liberation Sans", sans-serif' font-weight="normal" font-size="13.8" fill="#000" textLength="16.00" lengthAdjust="spacingAndGlyphs" text-rendering="geometricPrecision" stroke="#fff" stroke-width="0.042">27</text>
<text x="200.50" y="438" font-family='"Liberation Sans", sans-serif' font-weight="normal" font-size="13.8" fill="#000" textLength="24.00" lengthAdjust="spacingAndGlyphs" text-rendering="geometricPrecision" stroke="#fff" stroke-width="0.136">Mar</text>
<text x="231.50" y="438" font-family='"Liberation Sans", sans-serif' font-weight="normal" font-size="13.8" fill="#000" textLength="16.00" lengthAdjust="spacingAndGlyphs" text-rendering="geometricPrecision" stroke="#fff" stroke-width="0.017">28</text>
<text x="368.50" y="438" font-family='"Liberation Sans", sans-serif' font-weight="normal" font-size="13.8" fill="#000" textLength="24.00" lengthAdjust="spacingAndGlyphs" text-rendering="geometricPrecision" stroke="#fff" stroke-width="0.136">Mar</text>
<text x="399.50" y="438" font-family='"Liberation Sans", sans-serif' font-weight="normal" font-size="13.8" fill="#000" textLength="16.00" lengthAdjust="spacingAndGlyphs" text-rendering="geometricPrecision" stroke="#fff" stroke-width="0.028">29</text>
<text x="536.50" y="438" font-family='"Liberation Sans", sans-serif' font-weight="normal" font-size="13.8" fill="#000" textLength="24.00" lengthAdjust="spacingAndGlyphs" text-rendering="geometricPrecision" stroke="#fff" stroke-width="0.136">Mar</text>
<text x="567.50" y="438" font-family='"Liberation Sans", sans-serif' font-weight="normal" font-size="13.8" fill="#000" textLength="16.00" lengthAdjust="spacingAndGlyphs" text-rendering="geometricPrecision" stroke="#fff" stroke-width="0.059">30</text>
<text x="252.50" y="453" font-family='"Liberation Serif", serif' font-weight="bold" font-size="15.2" fill="#000" textLength="69.00" lengthAdjust="spacingAndGlyphs" stroke="#fff" stroke-width="0.111">Universal</text>
<text x="327.50" y="453" font-family='"Liberation Serif", serif' font-weight="bold" font-size="15.2" fill="#000" textLength="37.00" lengthAdjust="spacingAndGlyphs" stroke="#fff" stroke-width="0.238">Time</text>
<text x="-0.50" y="475" font-family='"Liberation Serif", serif' font-weight="bold" font-size="16.6" fill="#000" textLength="66.00" lengthAdjust="spacingAndGlyphs" stroke="#fff" stroke-width="0.335">Updated</text>
<text x="73.50" y="475" font-family='"Liberation Sans", sans-serif' font-weight="normal" font-size="15.6" fill="#000" textLength="36.00" lengthAdjust="spacingAndGlyphs" text-rendering="geometricPrecision" stroke="#fff" stroke-width="0.228">2020</text>
<text x="117.50" y="475" font-family='"Liberation Sans", sans-serif' font-weight="normal" font-size="15.6" fill="#000" textLength="26.00" lengthAdjust="spacingAndGlyphs" text-rendering="geometricPrecision" stroke="#fff" stroke-width="0.232">Mar</text>
<text x="150.50" y="475" font-family='"Liberation Sans", sans-serif' font-weight="normal" font-size="15.6" fill="#000" textLength="18.00" lengthAdjust="spacingAndGlyphs" text-rendering="geometricPrecision" stroke="#fff" stroke-width="0.187">29</text>
<text x="176.50" y="475" font-family='"Liberation Sans", sans-serif' font-weight="normal" font-size="15.6" fill="#000" textLength="65.00" lengthAdjust="spacingAndGlyphs" text-rendering="geometricPrecision" stroke="#fff" stroke-width="0.289">15:30:02</text>
<text x="248.50" y="475" font-family='"Liberation Sans", sans-serif' font-weight="normal" font-size="15.6" fill="#000" textLength="28.00" lengthAdjust="spacingAndGlyphs" text-rendering="geometricPrecision" stroke="#fff" stroke-width="0.21">UTC</text>
<text x="410.50" y="475" font-family='"Liberation Serif", serif' font-weight="bold" font-size="16.6" fill="#000" textLength="92.00" lengthAdjust="spacingAndGlyphs" stroke="#fff" stroke-width="0.173">NOAA/SWPC</text>
<text x="508.50" y="475" font-family='"Liberation Serif", serif' font-weight="bold" font-size="16.6" fill="#000" textLength="67.00" lengthAdjust="spacingAndGlyphs" stroke="#fff" stroke-width="0.421">Boulder,</text>
<text x="582.50" y="475" font-family='"Liberation Serif", serif' font-weight="bold" font-size="16.6" fill="#000" textLength="21.00" lengthAdjust="spacingAndGlyphs" stroke="#fff" stroke-width="0.118">CO</text>
<text x="610.50" y="475" font-family='"Liberation Serif", serif' font-weight="bold" font-size="16.6" fill="#000" textLength="30.00" lengthAdjust="spacingAndGlyphs" stroke="#fff" stroke-width="0.049">USA</text>
<text transform="translate(27,267.50) rotate(-90)" font-family='"Liberation Serif", serif' font-weight="bold" font-size="16.0" fill="#000" textLength="23.00" lengthAdjust="spacingAndGlyphs" stroke="#fff" stroke-width="0.311">Kp</text>
<text transform="translate(27,237.50) rotate(-90)" font-family='"Liberation Serif", serif' font-weight="bold" font-size="16.0" fill="#000" textLength="50.00" lengthAdjust="spacingAndGlyphs" stroke="#fff" stroke-width="0.506">index</text>
<text transform="translate(608,168.50) rotate(-90)" font-family='"Liberation Serif", serif' font-weight="normal" font-size="23.5" fill="#ff1a00" textLength="17.00" lengthAdjust="spacingAndGlyphs">K</text>
<text transform="translate(608,141.50) rotate(-90)" font-family='"Liberation Serif", serif' font-weight="normal" font-size="23.5" fill="#ff1a00" textLength="14.00" lengthAdjust="spacingAndGlyphs" stroke="#fff" stroke-width="0.38">4</text>
<text transform="translate(608,240.50) rotate(-90)" font-family='"Liberation Serif", serif' font-weight="normal" font-size="23.5" fill="#ffd700" textLength="17.00" lengthAdjust="spacingAndGlyphs">K</text>
<text transform="translate(608,205.50) rotate(-90)" font-family='"Liberation Serif", serif' font-weight="normal" font-size="23.5" fill="#ffd700" textLength="14.00" lengthAdjust="spacingAndGlyphs" stroke="#fff" stroke-width="0.38">4</text>
<text transform="translate(608,312.50) rotate(-90)" font-family='"Liberation Serif", serif' font-weight="normal" font-size="23.5" fill="#1aff00" textLength="17.00" lengthAdjust="spacingAndGlyphs">K</text>
<text transform="translate(608,285.50) rotate(-90)" font-family='"Liberation Serif", serif' font-weight="normal" font-size="23.5" fill="#1aff00" textLength="14.00" lengthAdjust="spacingAndGlyphs" stroke="#fff" stroke-width="0.38">4</text>
</g>
</svg>
</body></html>
